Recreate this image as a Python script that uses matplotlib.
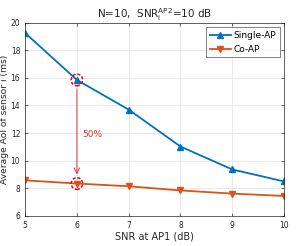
import matplotlib
matplotlib.use("Agg")
import matplotlib.pyplot as plt
from matplotlib.patches import Ellipse

snr = [5, 6, 7, 8, 9, 10]
single_ap = [19.25, 15.85, 13.7, 11.03, 9.37, 8.5]
co_ap = [8.58, 8.35, 8.15, 7.85, 7.62, 7.45]
xticks = [5, 6, 7, 8, 9, 10]
yticks = [6, 8, 10, 12, 14, 16, 18, 20]

blue = (0, 0.447, 0.741)
orange = (0.85, 0.325, 0.098)

plt.rcParams['font.family'] = ['DejaVu Sans']
fig = plt.figure(figsize=(2.99, 2.46), dpi=100)
ax = fig.add_axes([0.084, 0.122, 0.866, 0.786])

ax.plot(snr, single_ap, color=blue, marker='^', markersize=5, lw=1.3, label='Single-AP')
ax.plot(snr, co_ap, color=orange, marker='v', markersize=5, lw=1.3, label='Co-AP')

ax.set_xlim(5, 10)
ax.set_ylim(6, 20)
ax.set_xticks(xticks)
ax.set_yticks(yticks)
ax.tick_params(direction='in', labelsize=5.5, length=2, width=0.5, colors='#262626', top=True, right=True, labeltop=False, labelright=False)
ax.grid(True, color='#e6e6e6', lw=0.6)
for s in ax.spines.values():
    s.set_color('#262626')
    s.set_linewidth(0.5)

ax.set_xlabel('SNR at AP1 (dB)', fontsize=7, labelpad=1, color='#262626')
ax.set_ylabel('Average AoI of sensor i (ms)', fontsize=6.6, labelpad=1, color='#262626')
ax.set_title(r'N=10,  SNR$_{\mathrm{i}}^{\mathrm{AP2}}$=10 dB', fontsize=7.5, pad=3, color='#262626')

# annotations
for yv in (single_ap[1], co_ap[1]):
    e = Ellipse((6, yv), width=0.22, height=0.85, fill=False, edgecolor='red', ls=(0, (2, 1.2)), lw=1.1, zorder=5)
    ax.add_patch(e)
ax.annotate('', xy=(6, co_ap[1] + 0.45), xytext=(6, single_ap[1] - 0.45),
            arrowprops=dict(arrowstyle='->', color='#e83030', lw=0.7))
ax.text(6.1, 11.9, '50%', color='#e83030', fontsize=6.5, va='center', ha='left')

leg = ax.legend(loc='upper right', fontsize=6.5, fancybox=False, edgecolor='#262626',
                handlelength=2.3, borderpad=0.4, labelspacing=0.55, handletextpad=0.3, borderaxespad=0.5)
leg.get_frame().set_linewidth(0.5)

fig.savefig('out.png', dpi=100)
